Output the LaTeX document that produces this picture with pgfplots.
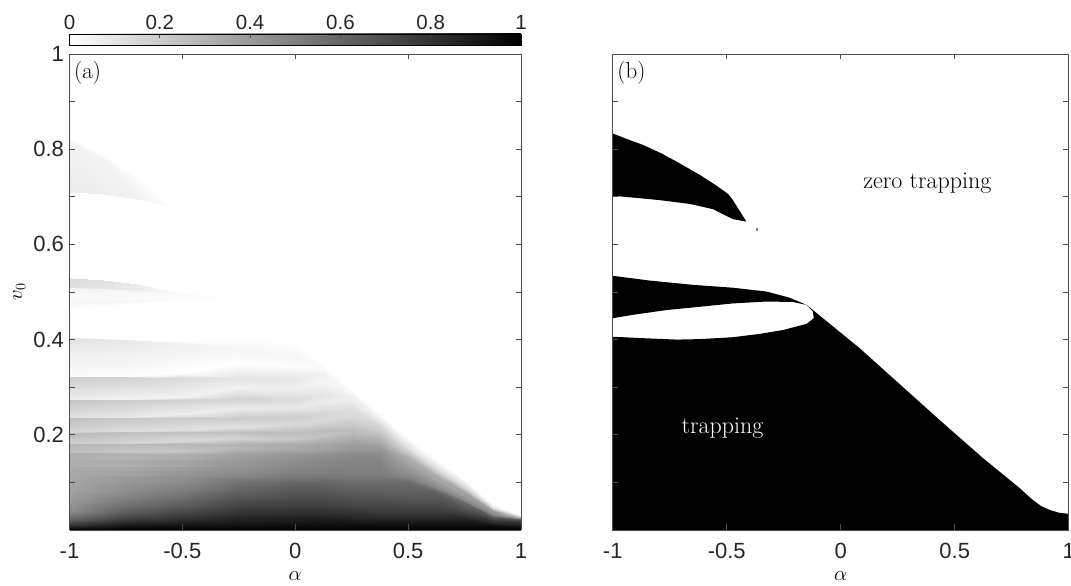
\documentclass[border=0pt]{standalone}
\usepackage{fontspec}
\usepackage{pgfplots}
\pgfplotsset{compat=1.18}
\newfontfamily\hv{Liberation Sans}
\definecolor{axc}{gray}{0.3}
\pgfplotsset{
  myaxis/.style={
    scale only axis, width=451.5pt, height=476pt,
    xmin=-1, xmax=1, ymin=0, ymax=1, enlargelimits=false,
    xtick={-1,-0.5,0,0.5,1},
    ytick={0.2,0.4,0.6,0.8,1},
    minor ytick={0.1,0.3,0.5,0.7,0.9},
    tick align=inside,
    axis on top,
    major tick length=5.5pt, minor tick length=5.5pt,
    tick style={color=axc, line width=0.8pt},
    minor tick style={color=axc, line width=0.8pt},
    axis line style={color=axc, line width=0.8pt},
    /pgf/number format/assume math mode=true,
    tick label style={font=\hv\fontsize{22}{24}\selectfont, text=black!85},
    xlabel={$\alpha$},
    xlabel style={font=\fontsize{22}{24}\selectfont, at={(axis description cs:0.5,0)}, anchor=north, yshift=-41pt, inner sep=0pt},
    xticklabel style={yshift=-10pt},
    yticklabel style={xshift=-2pt},
  }
}
\pgfplotsset{colormap={bw}{gray(0cm)=(1); gray(1cm)=(0)}}
\begin{document}
\begin{tikzpicture}
\path[use as bounding box] (0,0) rectangle (1071pt,586pt);
\begin{axis}[myaxis, at={(69.5pt,56pt)}, anchor=south west,
  view={0}{90}, colormap name=bw, point meta min=0, point meta max=1,
  ylabel={$v_0$},
  ylabel style={font=\fontsize{22}{24}\selectfont, at={(axis description cs:0,0.5)}, anchor=south, yshift=44pt, inner sep=0pt},
  colorbar horizontal,
  colorbar style={
    at={(0,1.0183)}, anchor=south west,
    scale only axis, width=451.5pt, height=11.3pt,
    xtick={0,0.2,0.4,0.6,0.8,1},
    xtick pos=upper, xticklabel pos=upper, tick align=inside,
    major tick length=4pt,
    tick style={color=axc, line width=0.7pt},
    axis line style={color=black, line width=0.7pt},
    /pgf/number format/assume math mode=true,
    xticklabel style={font=\hv\fontsize{20.5}{22}\selectfont, text=black!85, yshift=1pt},
    samples=65,
  },
]
\addplot3[surf, shader=interp, mesh/cols=13] table[row sep=\\] {
x y z\\
-1 .406 0\\ -.75 .401 0\\ -.5 .397 0\\ -.25 .405 0\\ 0 .395 0\\ .125 .345 0\\ .25 .295 0\\ .375 .245 0\\ .5 .195 0\\ .625 .150 0\\ .75 .105 0\\ .875 .055 0\\ 1 .033 0\\
-1 .404 .11\\ -.75 .399 .09\\ -.5 .392 .05\\ -.25 .385 .03\\ 0 .375 .025\\ .125 .342 .015\\ .25 .293 .01\\ .375 .243 .01\\ .5 .193 .005\\ .625 .149 .005\\ .75 .104 .005\\ .875 .054 .005\\ 1 .0325 .005\\
-1 .375 .07\\ -.75 .373 .06\\ -.5 .372 .04\\ -.25 .372 .03\\ 0 .36 .03\\ .125 .340 .02\\ .25 .291 .015\\ .375 .241 .015\\ .5 .191 .01\\ .625 .148 .01\\ .75 .103 .01\\ .875 .053 .01\\ 1 .032 .01\\
-1 .3245 .015\\ -.75 .3245 .01\\ -.5 .33 0\\ -.25 .35 0\\ 0 .345 .01\\ .125 .338 .02\\ .25 .290 .02\\ .375 .240 .03\\ .5 .19 .02\\ .625 .146 .02\\ .75 .102 .03\\ .875 .052 .03\\ 1 .0315 .01\\
-1 .323 .2\\ -.75 .322 .18\\ -.5 .32 .14\\ -.25 .32 .11\\ 0 .318 .09\\ .125 .327 .05\\ .25 .288 .03\\ .375 .238 .04\\ .5 .188 .03\\ .625 .144 .03\\ .75 .1 .05\\ .875 .051 .05\\ 1 .031 .02\\
-1 .275 .07\\ -.75 .275 .05\\ -.5 .28 .05\\ -.25 .3 .05\\ 0 .298 .06\\ .125 .31 .04\\ .25 .286 .03\\ .375 .236 .05\\ .5 .186 .04\\ .625 .142 .04\\ .75 .098 .07\\ .875 .05 .07\\ 1 .0305 .03\\
-1 .2735 .23\\ -.75 .273 .2\\ -.5 .274 .18\\ -.25 .277 .17\\ 0 .275 .14\\ .125 .283 .1\\ .25 .284 .06\\ .375 .233 .06\\ .5 .184 .05\\ .625 .14 .05\\ .75 .096 .09\\ .875 .049 .09\\ 1 .03 .04\\
-1 .2365 .12\\ -.75 .2365 .09\\ -.5 .243 .07\\ -.25 .256 .08\\ 0 .258 .09\\ .125 .268 .08\\ .25 .274 .06\\ .375 .23 .08\\ .5 .182 .06\\ .625 .138 .06\\ .75 .094 .11\\ .875 .048 .12\\ 1 .0295 .05\\
-1 .235 .25\\ -.75 .235 .22\\ -.5 .235 .2\\ -.25 .235 .2\\ 0 .237 .19\\ .125 .245 .16\\ .25 .255 .13\\ .375 .225 .11\\ .5 .18 .07\\ .625 .136 .08\\ .75 .092 .13\\ .875 .047 .15\\ 1 .0292 .07\\
-1 .2055 .17\\ -.75 .207 .13\\ -.5 .21 .12\\ -.25 .217 .12\\ 0 .222 .15\\ .125 .232 .15\\ .25 .242 .14\\ .375 .22 .15\\ .5 .178 .08\\ .625 .134 .1\\ .75 .09 .15\\ .875 .046 .18\\ 1 .029 .09\\
-1 .204 .27\\ -.75 .205 .25\\ -.5 .205 .24\\ -.25 .206 .25\\ 0 .205 .26\\ .125 .208 .26\\ .25 .215 .24\\ .375 .21 .2\\ .5 .175 .1\\ .625 .131 .12\\ .75 .088 .18\\ .875 .045 .21\\ 1 .0287 .11\\
-1 .182 .2\\ -.75 .183 .16\\ -.5 .186 .15\\ -.25 .193 .17\\ 0 .192 .22\\ .125 .197 .24\\ .25 .207 .26\\ .375 .2 .26\\ .5 .172 .13\\ .625 .128 .15\\ .75 .086 .21\\ .875 .044 .25\\ 1 .0285 .13\\
-1 .1805 .29\\ -.75 .18 .27\\ -.5 .18 .28\\ -.25 .178 .31\\ 0 .178 .34\\ .125 .18 .35\\ .25 .185 .36\\ .375 .185 .33\\ .5 .168 .17\\ .625 .124 .2\\ .75 .084 .25\\ .875 .043 .3\\ 1 .0283 .15\\
-1 .163 .25\\ -.75 .164 .22\\ -.5 .166 .22\\ -.25 .172 .28\\ 0 .17 .33\\ .125 .17 .36\\ .25 .172 .4\\ .375 .172 .4\\ .5 .162 .22\\ .625 .12 .25\\ .75 .082 .3\\ .875 .041 .35\\ 1 .0281 .17\\
-1 .161 .31\\ -.75 .161 .3\\ -.5 .16 .31\\ -.25 .16 .37\\ 0 .158 .42\\ .125 .158 .44\\ .25 .16 .45\\ .375 .16 .45\\ .5 .155 .3\\ .625 .115 .32\\ .75 .08 .35\\ .875 .04 .4\\ 1 .028 .2\\
-1 .15 .31\\ -.75 .15 .29\\ -.5 .15 .32\\ -.25 .15 .39\\ 0 .15 .44\\ .125 .15 .46\\ .25 .15 .47\\ .375 .15 .47\\ .5 .15 .33\\ .625 .112 .34\\ .75 .077 .36\\ .875 .039 .41\\ 1 .0275 .22\\
-1 .149 .32\\ -.75 .149 .33\\ -.5 .149 .35\\ -.25 .149 .39\\ 0 .149 .44\\ .125 .149 .46\\ .25 .149 .47\\ .375 .149 .47\\ .5 .149 .33\\ .625 .109 .34\\ .75 .075 .36\\ .875 .038 .41\\ 1 .027 .22\\
-1 .135 .32\\ -.75 .135 .31\\ -.5 .135 .35\\ -.25 .135 .42\\ 0 .135 .46\\ .125 .135 .48\\ .25 .135 .49\\ .375 .135 .49\\ .5 .135 .38\\ .625 .106 .36\\ .75 .073 .38\\ .875 .037 .43\\ 1 .0267 .27\\
-1 .134 .33\\ -.75 .134 .35\\ -.5 .134 .38\\ -.25 .134 .42\\ 0 .134 .46\\ .125 .134 .48\\ .25 .134 .49\\ .375 .134 .49\\ .5 .134 .38\\ .625 .103 .36\\ .75 .071 .38\\ .875 .036 .43\\ 1 .0263 .27\\
-1 .125 .33\\ -.75 .125 .34\\ -.5 .125 .38\\ -.25 .125 .44\\ 0 .125 .48\\ .125 .125 .5\\ .25 .125 .5\\ .375 .125 .5\\ .5 .125 .42\\ .625 .1 .4\\ .75 .069 .42\\ .875 .035 .46\\ 1 .026 .33\\
-1 .124 .34\\ -.75 .124 .37\\ -.5 .124 .41\\ -.25 .124 .44\\ 0 .124 .48\\ .125 .124 .5\\ .25 .124 .5\\ .375 .124 .5\\ .5 .124 .42\\ .625 .097 .4\\ .75 .067 .42\\ .875 .034 .46\\ 1 .0257 .33\\
-1 .115 .34\\ -.75 .115 .36\\ -.5 .115 .41\\ -.25 .115 .47\\ 0 .115 .52\\ .125 .115 .53\\ .25 .115 .52\\ .375 .115 .52\\ .5 .115 .46\\ .625 .094 .45\\ .75 .064 .47\\ .875 .032 .5\\ 1 .0253 .4\\
-1 .114 .345\\ -.75 .114 .39\\ -.5 .114 .43\\ -.25 .114 .47\\ 0 .114 .52\\ .125 .114 .53\\ .25 .114 .52\\ .375 .114 .52\\ .5 .114 .46\\ .625 .09 .45\\ .75 .061 .47\\ .875 .031 .5\\ 1 .025 .4\\
-1 .1 .35\\ -.75 .1 .41\\ -.5 .1 .45\\ -.25 .1 .55\\ 0 .1 .6\\ .125 .1 .6\\ .25 .1 .58\\ .375 .1 .58\\ .5 .1 .58\\ .625 .085 .56\\ .75 .058 .57\\ .875 .03 .58\\ 1 .024 .5\\
-1 .08 .37\\ -.75 .08 .45\\ -.5 .08 .52\\ -.25 .08 .62\\ 0 .08 .66\\ .125 .08 .66\\ .25 .08 .64\\ .375 .08 .63\\ .5 .08 .63\\ .625 .08 .62\\ .75 .05 .63\\ .875 .027 .66\\ 1 .023 .6\\
-1 .06 .4\\ -.75 .06 .52\\ -.5 .06 .6\\ -.25 .06 .7\\ 0 .06 .72\\ .125 .06 .72\\ .25 .06 .7\\ .375 .06 .7\\ .5 .06 .68\\ .625 .06 .68\\ .75 .042 .69\\ .875 .024 .72\\ 1 .021 .68\\
-1 .04 .45\\ -.75 .04 .62\\ -.5 .04 .7\\ -.25 .04 .78\\ 0 .04 .8\\ .125 .04 .8\\ .25 .04 .78\\ .375 .04 .76\\ .5 .04 .76\\ .625 .04 .76\\ .75 .034 .76\\ .875 .02 .78\\ 1 .018 .75\\
-1 .025 .58\\ -.75 .025 .74\\ -.5 .025 .8\\ -.25 .025 .86\\ 0 .025 .87\\ .125 .025 .87\\ .25 .025 .86\\ .375 .025 .85\\ .5 .025 .85\\ .625 .025 .85\\ .75 .025 .85\\ .875 .015 .85\\ 1 .014 .82\\
-1 .012 .76\\ -.75 .012 .88\\ -.5 .012 .9\\ -.25 .012 .92\\ 0 .012 .93\\ .125 .012 .94\\ .25 .012 .94\\ .375 .012 .93\\ .5 .012 .93\\ .625 .012 .93\\ .75 .012 .93\\ .875 .01 .93\\ 1 .009 .9\\
-1 .004 .92\\ -.75 .004 .97\\ -.5 .004 .98\\ -.25 .004 .98\\ 0 .004 .98\\ .125 .004 .98\\ .25 .004 .98\\ .375 .004 .98\\ .5 .004 .98\\ .625 .004 .98\\ .75 .004 .98\\ .875 .004 .98\\ 1 .004 .96\\
-1 0 1\\ -.75 0 1\\ -.5 0 1\\ -.25 0 1\\ 0 0 1\\ .125 0 1\\ .25 0 1\\ .375 0 1\\ .5 0 1\\ .625 0 1\\ .75 0 1\\ .875 0 1\\ 1 0 1\\
};
% upper lobe
\addplot3[surf, shader=interp, mesh/cols=5] table[row sep=\\] {
x y z\\
-1 .825 0\\ -.85 .79 0\\ -.7 .745 0\\ -.6 .705 0\\ -.533 .673 0\\
-1 .815 .05\\ -.85 .78 .04\\ -.7 .735 .02\\ -.6 .70 .01\\ -.533 .673 0\\
-1 .71 .075\\ -.85 .705 .07\\ -.7 .695 .05\\ -.6 .685 .025\\ -.533 .672 0\\
};
% middle lobe
\addplot3[surf, shader=interp, mesh/cols=7] table[row sep=\\] {
x y z\\
-1 .529 .14\\ -.85 .525 .12\\ -.7 .517 .08\\ -.6 .506 .04\\ -.5 .498 .02\\ -.4 .493 .01\\ -.3 .488 0\\
-1 .51 .13\\ -.85 .508 .1\\ -.7 .505 .07\\ -.6 .5 .03\\ -.5 .495 .02\\ -.4 .49 .01\\ -.3 .488 0\\
-1 .508 .05\\ -.85 .506 .04\\ -.7 .503 .03\\ -.6 .498 .02\\ -.5 .492 .015\\ -.4 .489 .01\\ -.3 .487 0\\
-1 .49 .02\\ -.85 .488 .02\\ -.7 .487 .02\\ -.6 .487 .015\\ -.5 .486 .01\\ -.4 .486 .01\\ -.3 .486 0\\
-1 .478 .035\\ -.85 .48 .035\\ -.7 .482 .03\\ -.6 .483 .02\\ -.5 .484 .015\\ -.4 .485 .01\\ -.3 .485 0\\
-1 .46 0\\ -.85 .468 0\\ -.7 .475 0\\ -.6 .478 0\\ -.5 .481 0\\ -.4 .483 0\\ -.3 .484 0\\
};
\node[anchor=west, font=\fontsize{23}{24}\selectfont, inner sep=0pt] at (axis cs:-0.98,0.96) {(a)};
\end{axis}

\begin{axis}[myaxis, at={(612.7pt,56pt)}, anchor=south west, width=456pt,
  yticklabels={}]
% upper black lobe
\addplot[fill=black, draw=none] coordinates {
(-1,.833) (-.935,.821) (-.867,.809) (-.79,.792) (-.72,.774) (-.618,.746) (-.55,.725) (-.494,.706) (-.473,.693) (-.44,.668) (-.414,.648)
(-.473,.653) (-.56,.674) (-.662,.685) (-.794,.693) (-.925,.699) (-1,.702) (-1,.833)};
% isolated point
\addplot[only marks, mark=square*, mark size=0.6pt, color=black!50] coordinates {(-.37,.632)};
% main black region with the white lens
\addplot[fill=black, draw=none] coordinates {
(-1,0) (1,0) (1,.034) (.96,.036) (.917,.042) (.88,.05) (.844,.0625) (.78,.09) (.624,.151) (.434,.231) (.083,.382)
(-.114,.459) (-.15,.473) (-.224,.488) (-.326,.501) (-.473,.509) (-.648,.515) (-.838,.524) (-1,.534)
(-1,.445) (-.912,.452) (-.765,.462) (-.618,.469) (-.473,.476) (-.326,.480) (-.21,.479) (-.15,.473)
(-.122,.459) (-.118,.445) (-.15,.433) (-.254,.42) (-.355,.412) (-.473,.405) (-.618,.401) (-.72,.40)
(-.868,.403) (-1,.406) (-1,0)};
\node[anchor=west, font=\fontsize{23}{24}\selectfont, inner sep=0pt] at (axis cs:-0.98,0.96) {(b)};
\node[font=\fontsize{24}{24}\selectfont, inner sep=0pt] at (axis cs:0.38,0.729) {zero trapping};
\node[font=\fontsize{24}{24}\selectfont, inner sep=0pt, text=white] at (axis cs:-0.518,0.214) {trapping};
\end{axis}
\end{tikzpicture}
\end{document}
